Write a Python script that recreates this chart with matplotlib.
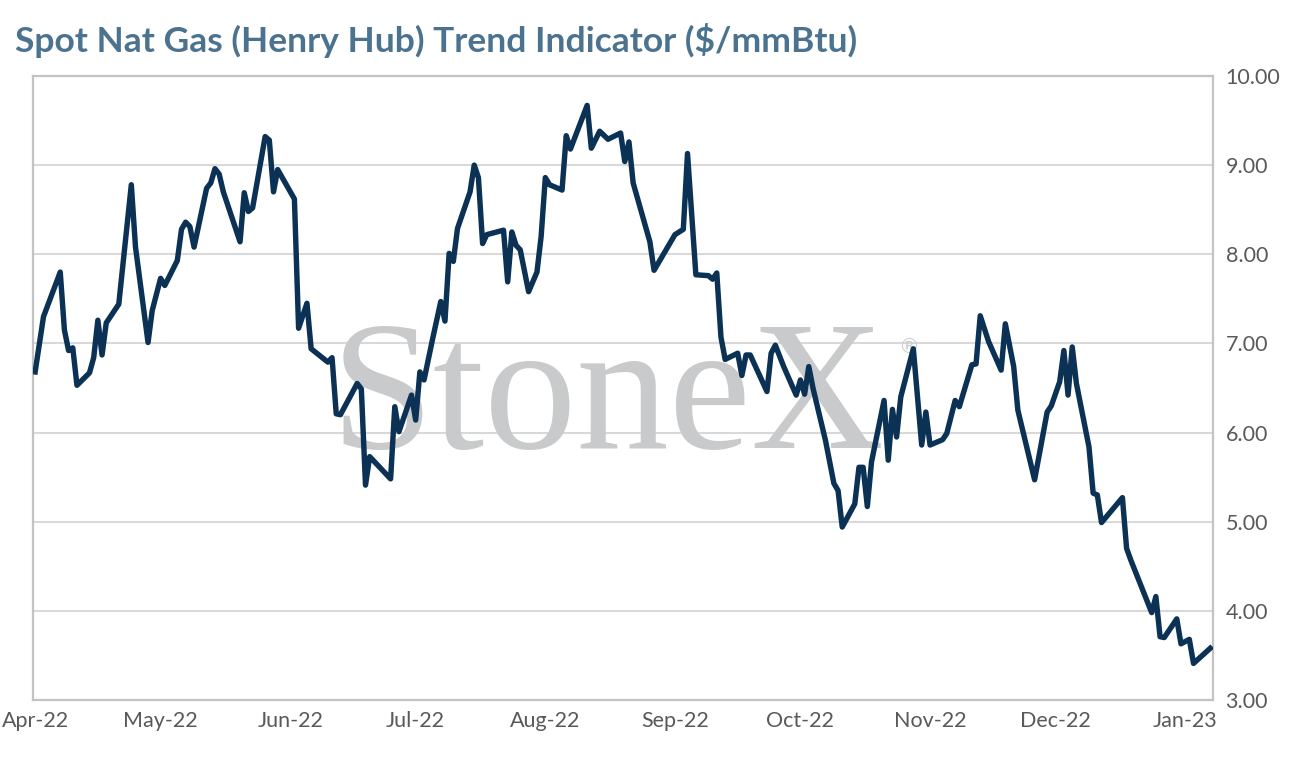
import pandas as pd
import matplotlib
matplotlib.use("Agg")
import matplotlib.pyplot as plt
import matplotlib.dates as mdates

# vertices of the price line (date, $/mmBtu)
dates = [
    "2022-04-01", "2022-04-03", "2022-04-07", "2022-04-08", "2022-04-09", "2022-04-10",
    "2022-04-11", "2022-04-14", "2022-04-15", "2022-04-16", "2022-04-17", "2022-04-18",
    "2022-04-21", "2022-04-24", "2022-04-25", "2022-04-28", "2022-04-29", "2022-05-01",
    "2022-05-02", "2022-05-05", "2022-05-06", "2022-05-07", "2022-05-08", "2022-05-09",
    "2022-05-12", "2022-05-13", "2022-05-14", "2022-05-15", "2022-05-16", "2022-05-20",
    "2022-05-21", "2022-05-22", "2022-05-23", "2022-05-26", "2022-05-27", "2022-05-28",
    "2022-05-29", "2022-06-02", "2022-06-03", "2022-06-05", "2022-06-06", "2022-06-10",
    "2022-06-11", "2022-06-12", "2022-06-13", "2022-06-17", "2022-06-18", "2022-06-19",
    "2022-06-20", "2022-06-25", "2022-06-26", "2022-06-27", "2022-06-30", "2022-07-01",
    "2022-07-02", "2022-07-03", "2022-07-05", "2022-07-07", "2022-07-08", "2022-07-09",
    "2022-07-10", "2022-07-11", "2022-07-14", "2022-07-15", "2022-07-16", "2022-07-17",
    "2022-07-18", "2022-07-22", "2022-07-23", "2022-07-24", "2022-07-25", "2022-07-26",
    "2022-07-28", "2022-07-30", "2022-07-31", "2022-08-01", "2022-08-02", "2022-08-05",
    "2022-08-06", "2022-08-07", "2022-08-11", "2022-08-12", "2022-08-14", "2022-08-16",
    "2022-08-19", "2022-08-20", "2022-08-21", "2022-08-22", "2022-08-26", "2022-08-27",
    "2022-09-01", "2022-09-03", "2022-09-04", "2022-09-06", "2022-09-09", "2022-09-10",
    "2022-09-11", "2022-09-12", "2022-09-13", "2022-09-16", "2022-09-17", "2022-09-18",
    "2022-09-19", "2022-09-23", "2022-09-24", "2022-09-25", "2022-09-27", "2022-09-30",
    "2022-10-01", "2022-10-02", "2022-10-03", "2022-10-04", "2022-10-07", "2022-10-09",
    "2022-10-10", "2022-10-11", "2022-10-14", "2022-10-15", "2022-10-16", "2022-10-17",
    "2022-10-18", "2022-10-21", "2022-10-22", "2022-10-23", "2022-10-24", "2022-10-25",
    "2022-10-28", "2022-10-30", "2022-10-31", "2022-11-01", "2022-11-04", "2022-11-05",
    "2022-11-07", "2022-11-08", "2022-11-11", "2022-11-12", "2022-11-13", "2022-11-15",
    "2022-11-18", "2022-11-19", "2022-11-21", "2022-11-22", "2022-11-26", "2022-11-29",
    "2022-11-30", "2022-12-02", "2022-12-03", "2022-12-04", "2022-12-05", "2022-12-06",
    "2022-12-09", "2022-12-10", "2022-12-11", "2022-12-12", "2022-12-17", "2022-12-18",
    "2022-12-19", "2022-12-24", "2022-12-25", "2022-12-26", "2022-12-27", "2022-12-30",
    "2022-12-31", "2023-01-02", "2023-01-03", "2023-01-07",
]
prices = [
    6.68, 7.30, 7.80, 7.15, 6.92, 6.95,
    6.53, 6.67, 6.84, 7.26, 6.87, 7.23,
    7.44, 8.78, 8.08, 7.01, 7.37, 7.73,
    7.65, 7.93, 8.28, 8.36, 8.31, 8.08,
    8.74, 8.80, 8.96, 8.90, 8.70, 8.14,
    8.69, 8.48, 8.52, 9.32, 9.28, 8.70,
    8.95, 8.62, 7.17, 7.45, 6.94, 6.79,
    6.84, 6.21, 6.20, 6.55, 6.49, 5.41,
    5.73, 5.48, 6.29, 6.01, 6.42, 6.14,
    6.68, 6.59, 7.04, 7.47, 7.25, 8.01,
    7.92, 8.29, 8.70, 9.00, 8.86, 8.12,
    8.22, 8.27, 7.69, 8.25, 8.10, 8.05,
    7.58, 7.80, 8.20, 8.86, 8.78, 8.72,
    9.33, 9.18, 9.67, 9.19, 9.38, 9.29,
    9.36, 9.04, 9.26, 8.80, 8.14, 7.82,
    8.22, 8.28, 9.13, 7.77, 7.76, 7.72,
    7.79, 7.07, 6.82, 6.89, 6.64, 6.87,
    6.87, 6.46, 6.89, 6.98, 6.74, 6.42,
    6.59, 6.43, 6.74, 6.50, 5.91, 5.43,
    5.35, 4.94, 5.20, 5.61, 5.61, 5.17,
    5.67, 6.36, 5.69, 6.26, 5.95, 6.40,
    6.94, 5.86, 6.23, 5.86, 5.92, 5.99,
    6.36, 6.29, 6.76, 6.77, 7.31, 7.02,
    6.70, 7.22, 6.74, 6.25, 5.47, 6.23,
    6.30, 6.57, 6.92, 6.42, 6.96, 6.55,
    5.84, 5.32, 5.30, 4.99, 5.27, 4.70,
    4.57, 3.98, 4.16, 3.71, 3.70, 3.91,
    3.63, 3.68, 3.41, 3.58,
]
month_ticks = pd.date_range("2022-04-01", "2023-01-01", freq="MS")
y_ticks = [3, 4, 5, 6, 7, 8, 9, 10]

dt = pd.to_datetime(dates)

fig = plt.figure(figsize=(12.91, 7.62), dpi=100, facecolor="white")
ax = fig.add_axes([0.0256, 0.0814, 0.9140, 0.8189])

# StoneX watermark behind the line
ax.text(0.487, 0.404, "StoneX", transform=ax.transAxes, ha="center", va="baseline",
        fontsize=133, family="Liberation Serif", color="#c9cacc", zorder=1)
ax.text(0.742, 0.565, "®", transform=ax.transAxes, ha="center", va="center",
        fontsize=15, family="DejaVu Sans", color="#c9cacc", zorder=1)

ax.plot(dt, prices, color="#0b3154", linewidth=3.9, solid_joinstyle="round", zorder=3)

ax.set_xlim(pd.Timestamp("2022-03-31 12:00"), pd.Timestamp("2023-01-07 16:00"))
ax.set_ylim(3, 10)
ax.set_xticks(month_ticks)
ax.xaxis.set_major_formatter(mdates.DateFormatter("%b-%y"))
ax.set_yticks(y_ticks)
ax.set_yticklabels([f"{v:.2f}" for v in y_ticks])
ax.yaxis.tick_right()

ax.grid(axis="y", color="#d9d9d9", linewidth=1.5, zorder=0)
ax.set_axisbelow(True)
for s in ax.spines.values():
    s.set_color("#c3c3c3")
    s.set_linewidth(1.6)
ax.tick_params(length=0, labelsize=15.5, labelcolor="#595959")
ax.tick_params(axis="x", pad=8)
ax.tick_params(axis="y", pad=9)
for lab in ax.get_xticklabels() + ax.get_yticklabels():
    lab.set_family("Lato")

fig.text(0.0116, 1 - 52 / 762, "Spot Nat Gas (Henry Hub) Trend Indicator ($/mmBtu)",
         ha="left", va="baseline", fontsize=25.5, fontweight="bold", family="Lato",
         color="#4b7390")

fig.savefig("out.png", dpi=100, facecolor="white")
